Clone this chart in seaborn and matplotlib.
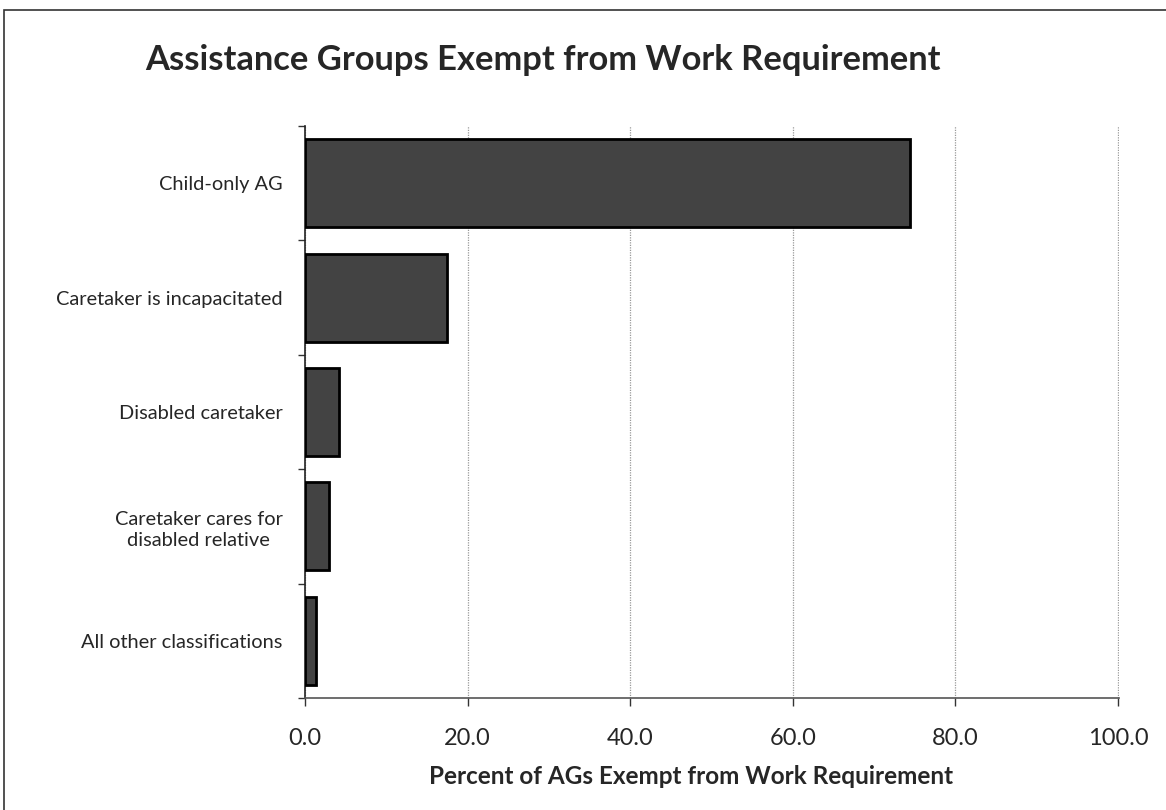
import matplotlib
matplotlib.use("Agg")
import matplotlib.pyplot as plt
import seaborn as sns
import pandas as pd
from matplotlib.patches import Rectangle

categories = [
    "Child-only AG",
    "Caretaker is incapacitated",
    "Disabled caretaker",
    "Caretaker cares for\ndisabled relative",
    "All other classifications",
]
values = [74.4, 17.5, 4.2, 3.0, 1.3]
x_ticks = [0, 20, 40, 60, 80, 100]
x_tick_labels = ["0.0", "20.0", "40.0", "60.0", "80.0", "100.0"]

title = "Assistance Groups Exempt from Work Requirement"
xlabel = "Percent of AGs Exempt from Work Requirement"

sns.set_style("white")
plt.rcParams["font.family"] = ["Lato", "DejaVu Sans"]

df = pd.DataFrame({"category": categories, "value": values})

fig = plt.figure(figsize=(11.66, 8.10), dpi=100)
ax = fig.add_axes([305 / 1166, 1 - 698 / 810, (1119 - 305) / 1166, (698 - 126) / 810])

sns.barplot(data=df, x="value", y="category", orient="h", color="#434343",
            saturation=1, width=0.77, edgecolor="black", linewidth=2, ax=ax, zorder=3)

ax.set_xlim(0, 100.12)
ax.set_ylim(len(categories) - 0.5, -0.5)
ax.set_xticks(x_ticks)
ax.set_xticklabels(x_tick_labels, fontsize=17)
ax.xaxis.grid(True, linestyle=(0, (1, 1)), color="#999999", linewidth=0.9, zorder=0)
ax.yaxis.grid(False)

# y tick labels at category centers (no tick marks), tick marks at boundaries
ax.set_yticks(range(len(categories)))
ax.set_yticklabels(categories, fontsize=14.4, multialignment="center", linespacing=1.3)
ax.tick_params(axis="y", which="major", left=True, length=0, pad=16)
ax.set_yticks([i - 0.5 for i in range(len(categories) + 1)], minor=True)
ax.tick_params(axis="y", which="minor", left=True, length=5, width=1,
               color="#333333", direction="out")
ax.tick_params(axis="x", which="major", bottom=True, length=6, width=1,
               color="#333333", direction="out", pad=15.5)

ax.set_ylabel("")
ax.set_xlabel(xlabel, fontsize=17.5, fontweight="bold", labelpad=12)
ax.xaxis.set_label_coords((691 - 305) / (1119 - 305), -(777 - 698) / (698 - 126))
ax.xaxis.label.set_va("center")

for s in ["top", "right"]:
    ax.spines[s].set_visible(False)
ax.spines["left"].set_color("#222222")
ax.spines["left"].set_linewidth(1.2)
ax.spines["bottom"].set_color("#555555")
ax.spines["bottom"].set_linewidth(1.2)

fig.text(145 / 1166, 1 - 60 / 810, title, fontsize=24.8, fontweight="bold",
         ha="left", va="center")

fig.patches.append(Rectangle((4 / 1166, -0.01), 1.1, 1 - 10 / 810 + 0.01,
                             transform=fig.transFigure, fill=False,
                             edgecolor="#333333", linewidth=1.2))

fig.savefig("out.png", dpi=100)
